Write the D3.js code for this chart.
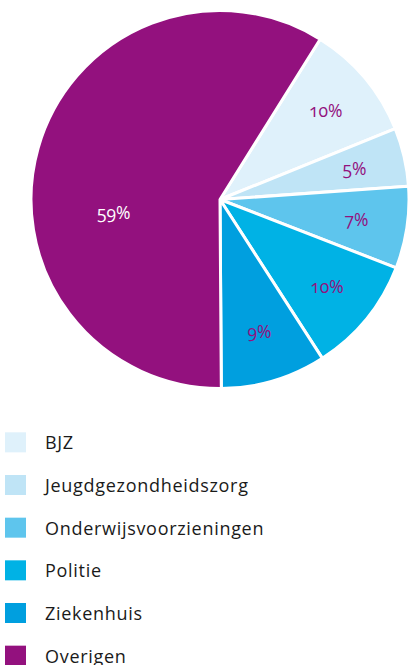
<!DOCTYPE html>
<html>
<head>
<meta charset="utf-8">
<script src="https://cdn.jsdelivr.net/npm/d3@7"></script>
<style>
  body { margin: 0; background: #fff; }
  svg { display: block; }
  .legend text { font-family: "Open Sans", sans-serif; font-size: 18px; fill: #1a1a1a; letter-spacing: 0.7px; }
  .label { font-family: "Open Sans", sans-serif; font-size: 17.5px; font-variant-numeric: oldstyle-nums; }
</style>
</head>
<body>
<svg width="408" height="665"></svg>
<script>
// data
const categories = ["BJZ", "Jeugdgezondheidszorg", "Onderwijsvoorzieningen", "Politie", "Ziekenhuis", "Overigen"];
const shares = [10, 5, 7, 10, 9, 59];
const colors = ["#dff1fb", "#bfe4f6", "#5ec5ed", "#00b2e5", "#009fdf", "#93117e"];
const labelColors = ["#93117e", "#93117e", "#93117e", "#93117e", "#93117e", "#ffffff"];

const data = categories.map((c, i) => ({ name: c, value: shares[i], i }));

const svg = d3.select("svg"),
    cx = 220, cy = 199.5, radius = 189;

const g = svg.append("g").attr("transform", `translate(${cx}, ${cy})`);

// first slice starts a bit past twelve o'clock
const start = 32 * Math.PI / 180;
const pie = d3.pie().sort(null).value(d => d.value)
    .startAngle(start).endAngle(start + 2 * Math.PI);

const arc = d3.arc().innerRadius(0).outerRadius(radius);
const labelArc = d3.arc().innerRadius(0).outerRadius(2 * 138);

const arcs = pie(data);

g.selectAll("path")
    .data(arcs)
    .enter()
    .append("path")
    .attr("d", arc)
    .attr("fill", d => colors[d.data.i])
    .attr("stroke", "#fff")
    .attr("stroke-width", 3)
    .attr("stroke-linejoin", "round");

// the big slice label sits closer to the middle
function labelPos(d) {
    if (d.data.name === "Overigen") {
        const a = 263 * Math.PI / 180;
        return [Math.sin(a) * 107, -Math.cos(a) * 107];
    }
    return labelArc.centroid(d);
}

g.selectAll("text.label")
    .data(arcs)
    .enter()
    .append("text")
    .attr("class", "label")
    .attr("transform", d => `translate(${labelPos(d)})`)
    .attr("text-anchor", "middle")
    .attr("dy", "0.35em")
    .attr("fill", d => labelColors[d.data.i])
    .text(d => d.data.value + "%");

// legend
const y = d3.scaleBand().domain(categories).range([421, 677]).paddingInner(0);

const legend = svg.append("g").attr("class", "legend")
    .selectAll("g")
    .data(categories)
    .enter()
    .append("g")
    .attr("transform", d => `translate(5, ${y(d) + y.bandwidth() / 2})`);

legend.append("rect")
    .attr("y", -10)
    .attr("width", 21)
    .attr("height", 20)
    .attr("fill", (d, i) => colors[i]);

legend.append("text")
    .attr("x", 40)
    .attr("y", 7)
    .text(d => d);
</script>
</body>
</html>
